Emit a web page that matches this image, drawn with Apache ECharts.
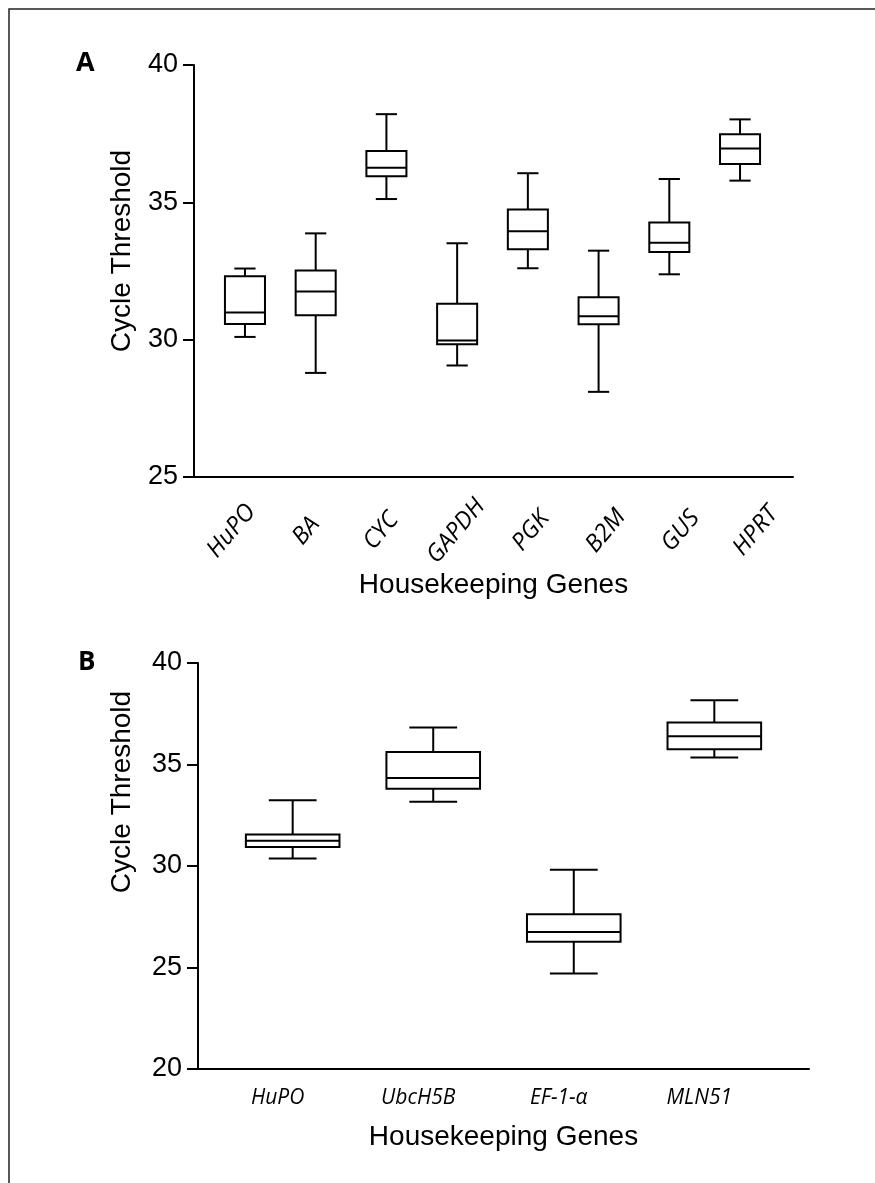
<!DOCTYPE html>
<html>
<head>
<meta charset="utf-8">
<script src="https://cdn.jsdelivr.net/npm/echarts@6/dist/echarts.min.js"></script>
<style>
  html, body { margin: 0; padding: 0; background: #fff; }
  #main { width: 875px; height: 1183px; }
</style>
</head>
<body>
<div id="main"></div>
<script>
  // panel A
  var genesA = ["HuPO", "BA", "CYC", "GAPDH", "PGK", "B2M", "GUS", "HPRT"];
  var lowA = [30.10, 28.79, 35.12, 29.06, 32.60, 28.10, 32.38, 35.79];
  var q1A = [30.57, 30.89, 35.95, 29.83, 33.29, 30.56, 33.19, 36.40];
  var medA = [30.99, 31.75, 36.26, 29.97, 33.95, 30.85, 33.53, 36.96];
  var q3A = [32.31, 32.52, 36.87, 31.31, 34.74, 31.54, 34.27, 37.48];
  var highA = [32.59, 33.87, 38.21, 33.51, 36.06, 33.24, 35.85, 38.02];
  var ticksA = { min: 25, max: 40, interval: 5 };

  // panel B
  var genesB = ["HuPO", "UbcH5B", "EF-1-α", "MLN51"];
  var lowB = [30.37, 33.16, 24.71, 35.34];
  var q1B = [30.94, 33.80, 26.27, 35.75];
  var medB = [31.24, 34.34, 26.75, 36.39];
  var q3B = [31.55, 35.61, 27.62, 37.07];
  var highB = [33.24, 36.82, 29.81, 38.16];
  var ticksB = { min: 20, max: 40, interval: 5 };

  var sans = "'Liberation Sans', Arial, sans-serif";
  var ital = "'Open Sans', 'Noto Sans', sans-serif";

  function rows(low, q1, med, q3, high) {
    return low.map(function (v, i) {
      return [i, v, q1[i], med[i], q3[i], high[i]];
    });
  }

  // box + whiskers with caps narrower than the box
  function boxRenderer(boxRatio, capRatio) {
    return function (params, api) {
      var i = api.value(0);
      var pLow = api.coord([i, api.value(1)]);
      var pQ1 = api.coord([i, api.value(2)]);
      var pMed = api.coord([i, api.value(3)]);
      var pQ3 = api.coord([i, api.value(4)]);
      var pHigh = api.coord([i, api.value(5)]);
      var band = api.size([1, 0])[0];
      var bw = band * boxRatio;
      var cw = band * capRatio;
      var cx = pLow[0];
      var st = { stroke: "#000", lineWidth: 2, fill: "none" };
      return {
        type: "group",
        children: [
          { type: "line", shape: { x1: cx, y1: pHigh[1], x2: cx, y2: pQ3[1] }, style: st },
          { type: "line", shape: { x1: cx, y1: pQ1[1], x2: cx, y2: pLow[1] }, style: st },
          { type: "line", shape: { x1: cx - cw / 2, y1: pHigh[1], x2: cx + cw / 2, y2: pHigh[1] }, style: st },
          { type: "line", shape: { x1: cx - cw / 2, y1: pLow[1], x2: cx + cw / 2, y2: pLow[1] }, style: st },
          { type: "rect", shape: { x: cx - bw / 2, y: pQ3[1], width: bw, height: pQ1[1] - pQ3[1] },
            style: { stroke: "#000", lineWidth: 2, fill: "#fff" } },
          { type: "line", shape: { x1: cx - bw / 2, y1: pMed[1], x2: cx + bw / 2, y2: pMed[1] }, style: st }
        ]
      };
    };
  }

  var axisLine = { show: true, lineStyle: { color: "#000", width: 2 } };
  var yTick = { show: true, length: 11, lineStyle: { color: "#000", width: 2 } };

  var chart = echarts.init(document.getElementById("main"));
  var option = {
    backgroundColor: "#fff",
    animation: false,
    title: [
      { text: "A", left: 71, top: 45, textStyle: { fontFamily: "'Open Sans', sans-serif", fontWeight: "bold", fontSize: 27, color: "#000" } },
      { text: "B", left: 73, top: 645, textStyle: { fontFamily: "'Open Sans', sans-serif", fontWeight: "bold", fontSize: 26, color: "#000" } }
    ],
    graphic: [
      { type: "rect", shape: { x: 9, y: 9, width: 1000, height: 1300 }, style: { fill: "none", stroke: "#222", lineWidth: 1.5 }, silent: true }
    ],
    grid: [
      // outer grids carry the axis lines, inner grids hold the boxes
      { left: 194, right: 82, top: 65, height: 412 },
      { left: 209.6, right: 99.6, top: 65, height: 412 },
      { left: 198, right: 66, top: 663, height: 406 },
      { left: 222.4, right: 90.4, top: 663, height: 406 }
    ],
    xAxis: [
      { gridIndex: 0, type: "category", data: genesA, axisLine: axisLine, axisTick: { show: false },
        axisLabel: { rotate: 50, margin: 54, align: "center", verticalAlign: "middle",
          fontFamily: ital, fontStyle: "italic", fontSize: 24, color: "#000" },
        name: "Housekeeping Genes", nameLocation: "middle", nameGap: 92, nameTextStyle: { fontFamily: sans, fontSize: 28, color: "#000" } },
      { gridIndex: 1, type: "category", data: genesA, show: false },
      { gridIndex: 2, type: "value", min: 0, max: 1, axisLine: axisLine, axisTick: { show: false }, axisLabel: { show: false }, splitLine: { show: false },
        name: "Housekeeping Genes", nameLocation: "middle", nameGap: 54, nameTextStyle: { fontFamily: sans, fontSize: 28, color: "#000" } },
      { gridIndex: 3, type: "category", data: genesB, axisLine: { show: false }, axisTick: { show: false },
        axisLabel: { margin: 19, padding: [0, 30, 0, 0], fontFamily: ital, fontStyle: "italic", fontSize: 21, color: "#000" } }
    ],
    yAxis: [
      { gridIndex: 0, type: "value", min: ticksA.min, max: ticksA.max, interval: ticksA.interval,
        axisLine: axisLine, axisTick: yTick, splitLine: { show: false },
        axisLabel: { margin: 16, fontFamily: sans, fontSize: 27, color: "#000" },
        name: "Cycle Threshold", nameLocation: "middle", nameGap: 58,
        nameTextStyle: { fontFamily: sans, fontSize: 28, color: "#000", padding: [0, 0, 0, 40] } },
      { gridIndex: 1, type: "value", min: ticksA.min, max: ticksA.max, show: false },
      { gridIndex: 2, type: "value", min: ticksB.min, max: ticksB.max, interval: ticksB.interval,
        axisLine: axisLine, axisTick: yTick, splitLine: { show: false },
        axisLabel: { margin: 16, fontFamily: sans, fontSize: 27, color: "#000" },
        name: "Cycle Threshold", nameLocation: "middle", nameGap: 62,
        nameTextStyle: { fontFamily: sans, fontSize: 28, color: "#000", padding: [0, 0, 0, 148] } },
      { gridIndex: 3, type: "value", min: ticksB.min, max: ticksB.max, show: false }
    ],
    series: [
      { type: "custom", xAxisIndex: 1, yAxisIndex: 1, renderItem: boxRenderer(0.566, 0.3),
        encode: { x: 0, y: [1, 2, 3, 4, 5] }, data: rows(lowA, q1A, medA, q3A, highA) },
      { type: "custom", xAxisIndex: 3, yAxisIndex: 3, renderItem: boxRenderer(0.666, 0.34),
        encode: { x: 0, y: [1, 2, 3, 4, 5] }, data: rows(lowB, q1B, medB, q3B, highB) }
    ]
  };
  chart.setOption(option);
</script>
</body>
</html>
